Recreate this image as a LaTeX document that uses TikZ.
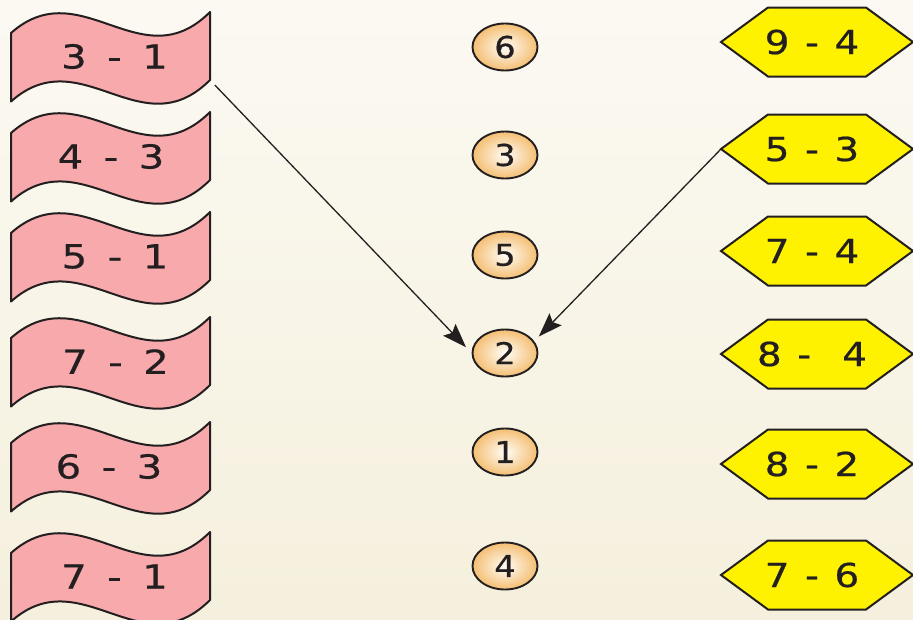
\documentclass[tikz,border=0pt]{standalone}
\usepackage{fontspec}
\usetikzlibrary{arrows.meta,shapes.geometric,calc}
\newfontfamily\flagfont[WordSpace=1.6,FakeStretch=1.22,FakeBold=0.6]{DejaVu Sans}
\newfontfamily\hexfont[WordSpace=1.25,FakeStretch=1.18,FakeBold=0.6]{DejaVu Sans}
\newfontfamily\circfont[FakeStretch=1.12,FakeBold=0.6]{DejaVu Sans}
\definecolor{ink}{HTML}{231F20}
\definecolor{bgtop}{HTML}{FBF9F2}
\definecolor{bgbot}{HTML}{F5F0DD}
\definecolor{flagpink}{HTML}{F7A9AC}
\definecolor{hexyellow}{HTML}{FFF200}
\definecolor{circin}{HTML}{FFFDF8}
\definecolor{circout}{HTML}{F4BE72}
\tikzset{
  flagshape/.style={fill=flagpink,draw=ink,line width=2pt,line join=round},
  hexshape/.style={fill=hexyellow,draw=ink,line width=2pt,line join=miter},
  flagtext/.style={inner sep=0pt,text=ink,font=\flagfont\fontsize{33}{33}\selectfont},
  hextext/.style={inner sep=0pt,text=ink,font=\hexfont\fontsize{33}{33}\selectfont},
  circ/.style={ellipse,minimum width=65pt,minimum height=47pt,inner sep=0pt,
    draw=ink,line width=1.9pt,inner color=circin,outer color=circout,
    text=ink,font=\circfont\fontsize{30}{30}\selectfont},
  conn/.style={draw=ink,line width=1.3pt,-{Stealth[length=24pt,width=17pt,inset=4pt]}}
}
\newcommand\flagbanner[4]{%
  \begin{scope}[shift={(110.5,-#2)}]
    \filldraw[flagshape] (-99.5,23.5) .. controls (-29.5,85.5) and (30.5,-24.5) .. (99.5,44.5)
      -- (99.5,-23.5) .. controls (30.5,-92.5) and (-29.5,17.5) .. (-99.5,-45) -- cycle;
    \node[flagtext] (#1) at (#3,0) {#4};
    \coordinate (#1c) at (99.5,-23.5);
  \end{scope}}
\newcommand\hexbox[3]{%
  \begin{scope}[shift={(817,-#2)}]
    \filldraw[hexshape] (-96,0) -- (-49,34.5) -- (49,34.5) -- (96,0) -- (49,-34.5) -- (-49,-34.5) -- cycle;
    \node[hextext] (#1) at (-5,0) {#3};
    \coordinate (#1w) at (-96,0);
  \end{scope}}
\begin{document}
\begin{tikzpicture}[x=1pt,y=1pt]
\shade[top color=bgtop,bottom color=bgbot] (0,0) rectangle (913,-619);
\useasboundingbox (0,0) rectangle (913,-619);
% flags
\flagbanner{f1}{56.5}{4}{3 - 1}
\flagbanner{f2}{156.5}{0.5}{4 - 3}
\flagbanner{f3}{256.5}{4.5}{5 - 1}
\flagbanner{f4}{361.5}{5}{7 - 2}
\flagbanner{f5}{466.5}{-1.5}{6 - 3}
\flagbanner{f6}{576.5}{4}{7 - 1}
% circles
\node[circ] (c6) at (505,-47) {6};
\node[circ] (c3) at (505,-155) {3};
\node[circ] (c5) at (505,-255) {5};
\node[circ] (c2) at (505,-353) {2};
\node[circ] (c1) at (505,-452) {1};
\node[circ] (c4) at (505,-566) {4};
% hexagons
\hexbox{h1}{42}{9 - 4}
\hexbox{h2}{149}{5 - 3}
\hexbox{h3}{251}{7 - 4}
\hexbox{h4}{354}{8 -\ \ 4}
\hexbox{h5}{464}{8 - 2}
\hexbox{h6}{575}{7 - 6}
% connectors
\draw[conn,shorten <=7pt,shorten >=8pt] (f1c) -- (c2.west);
\draw[conn,shorten >=6.5pt] (h2w) -- (c2.22);
\end{tikzpicture}
\end{document}
